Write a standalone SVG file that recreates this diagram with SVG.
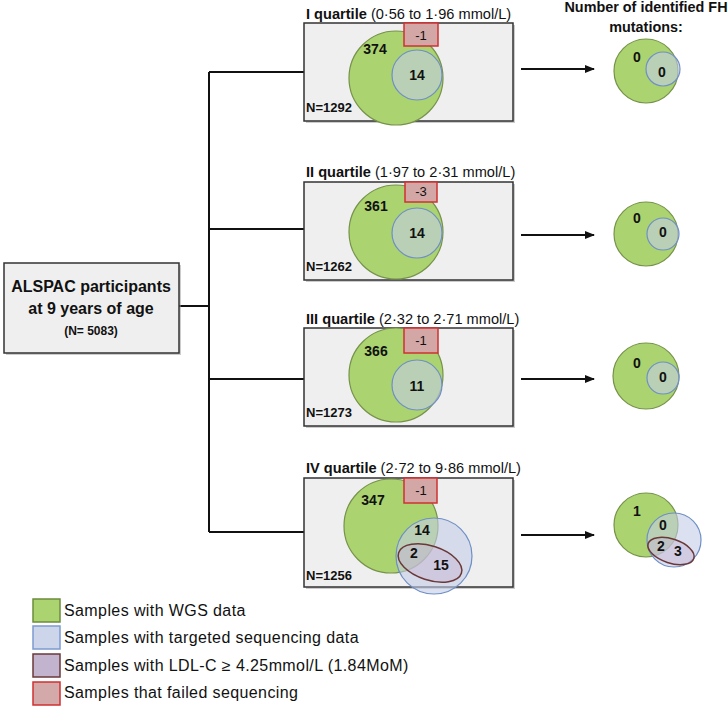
<svg xmlns="http://www.w3.org/2000/svg" width="728" height="708" viewBox="0 0 728 708">
<style>
text{font-family:"Liberation Sans","DejaVu Sans",sans-serif;fill:#111}
.b{font-weight:bold}
.box{fill:#efefef;stroke:#333;stroke-width:1.5}
.sh{fill:#9a9a9a;opacity:0.5}
.g{fill:#abd470;stroke:#76924a;stroke-width:1.2}
.bl{fill:#c3cde6;fill-opacity:0.6;stroke:#6f8fc6;stroke-width:1.2}
.rd{fill:#d4a7a7;stroke:#d03030;stroke-width:1.5}
.el{fill:#c8b4d2;fill-opacity:0.45;stroke:#6b3838;stroke-width:1.5}
.ln{fill:none;stroke:#111;stroke-width:2}
.t{font-size:14.6px}
.n{font-size:14px;font-weight:bold;text-anchor:middle}
.lg{font-size:16px;letter-spacing:0.4px}
</style>
<defs>
<marker id="ah" viewBox="0 0 10 10" refX="9" refY="5" markerWidth="5" markerHeight="5" orient="auto">
<path d="M0,1 L10,5 L0,9 z" fill="#111"/>
</marker>
</defs>
<g id="connectors">
<path class="ln" d="M179,306 H209 M209,72 V532 M209,72 H304 M209,229 H304 M209,379 H304 M209,532 H304"/>
<path class="ln" d="M521,69 H594" marker-end="url(#ah)"/>
<path class="ln" d="M521,235 H594" marker-end="url(#ah)"/>
<path class="ln" d="M521,379 H594" marker-end="url(#ah)"/>
<path class="ln" d="M521,535 H594" marker-end="url(#ah)"/>
</g>
<g id="alspac">
<rect class="sh" x="6" y="265" width="175" height="90"/>
<rect class="box" x="4" y="263" width="175" height="90"/>
<text class="b" x="91" y="292" font-size="16" text-anchor="middle">ALSPAC participants</text>
<text class="b" x="91" y="314" font-size="16" text-anchor="middle">at 9 years of age</text>
<text class="b" x="91" y="335" font-size="12" text-anchor="middle">(N= 5083)</text>
</g>
<g id="q1">
<text class="t" x="306" y="19"><tspan class="b">I quartile</tspan> (0·56 to 1·96 mmol/L)</text>
<rect class="sh" x="306" y="25" width="209" height="98"/>
<rect class="box" x="304" y="23" width="209" height="98"/>
<circle class="g" cx="396" cy="78" r="47"/>
<circle class="bl" cx="417" cy="75" r="25"/>
<rect class="rd" x="404" y="23" width="34" height="23"/>
<text x="421" y="40" font-size="13" text-anchor="middle">-1</text>
<text class="n" x="375" y="54">374</text>
<text class="n" x="417" y="80">14</text>
<text class="b" x="306" y="112" font-size="13">N=1292</text>
</g>
<g id="q2">
<text class="t" x="306" y="177"><tspan class="b">II quartile</tspan> (1·97 to 2·31 mmol/L)</text>
<rect class="sh" x="306" y="184" width="209" height="98"/>
<rect class="box" x="304" y="182" width="209" height="98"/>
<circle class="g" cx="396" cy="232" r="47"/>
<circle class="bl" cx="417" cy="233" r="25"/>
<rect class="rd" x="405" y="182" width="32" height="20"/>
<text x="421" y="196" font-size="13" text-anchor="middle">-3</text>
<text class="n" x="376" y="211">361</text>
<text class="n" x="417" y="238">14</text>
<text class="b" x="306" y="271" font-size="13">N=1262</text>
</g>
<g id="q3">
<text class="t" x="306" y="324"><tspan class="b">III quartile</tspan> (2·32 to 2·71 mmol/L)</text>
<rect class="sh" x="306" y="330" width="209" height="98"/>
<rect class="box" x="304" y="328" width="209" height="98"/>
<circle class="g" cx="396" cy="375" r="47"/>
<circle class="bl" cx="417" cy="385" r="25"/>
<rect class="rd" x="404" y="328" width="34" height="25"/>
<text x="421" y="345" font-size="13" text-anchor="middle">-1</text>
<text class="n" x="376" y="356">366</text>
<text class="n" x="417" y="391">11</text>
<text class="b" x="306" y="417" font-size="13">N=1273</text>
</g>
<g id="q4">
<text class="t" x="306" y="473"><tspan class="b">IV quartile</tspan> (2·72 to 9·86 mmol/L)</text>
<rect class="sh" x="306" y="480" width="209" height="109"/>
<rect class="box" x="304" y="478" width="209" height="109"/>
<circle class="g" cx="391" cy="526" r="47"/>
<circle class="bl" cx="434" cy="556" r="38"/>
<ellipse class="el" cx="430" cy="563" rx="33" ry="17" transform="rotate(18 430 563)"/>
<rect class="rd" x="404" y="478" width="33" height="25"/>
<text x="421" y="495" font-size="13" text-anchor="middle">-1</text>
<text class="n" x="373" y="505">347</text>
<text class="n" x="422" y="535">14</text>
<text class="n" x="414" y="558">2</text>
<text class="n" x="441" y="570">15</text>
<text class="b" x="306" y="580" font-size="13">N=1256</text>
</g>
<g id="fh-header">
<text class="b" x="646" y="12" font-size="14.4" text-anchor="middle">Number of identified FH</text>
<text class="b" x="646" y="32" font-size="14.4" text-anchor="middle">mutations:</text>
</g>
<g id="fh1">
<circle class="g" cx="646" cy="71" r="32"/>
<circle class="bl" cx="663" cy="69" r="17"/>
<text class="n" x="637" y="62">0</text>
<text class="n" x="662" y="77">0</text>
</g>
<g id="fh2">
<circle class="g" cx="646" cy="234" r="32"/>
<circle class="bl" cx="663" cy="234" r="16"/>
<text class="n" x="637" y="223">0</text>
<text class="n" x="663" y="237">0</text>
</g>
<g id="fh3">
<circle class="g" cx="646" cy="376" r="33"/>
<circle class="bl" cx="663" cy="378" r="16"/>
<text class="n" x="637" y="368">0</text>
<text class="n" x="663" y="382">0</text>
</g>
<g id="fh4">
<circle class="g" cx="646" cy="525" r="32"/>
<circle class="bl" cx="674" cy="540" r="27"/>
<ellipse class="el" cx="671" cy="551" rx="24" ry="12" transform="rotate(18 671 551)"/>
<text class="n" x="637" y="516">1</text>
<text class="n" x="663" y="530">0</text>
<text class="n" x="661" y="551">2</text>
<text class="n" x="678" y="556">3</text>
</g>
<g id="legend">
<rect x="33" y="599" width="27" height="23" fill="#abd470" stroke="#6e8c3c" stroke-width="1.5"/>
<rect x="33" y="626" width="27" height="23" fill="#ccd5ea" stroke="#7d9bd0" stroke-width="1.5"/>
<rect x="33" y="654" width="27" height="23" fill="#c2b3cf" stroke="#6b3a3a" stroke-width="1.5"/>
<rect x="33" y="682" width="27" height="23" fill="#d4a9a9" stroke="#d03030" stroke-width="1.5"/>
<text class="lg" x="64" y="616">Samples with WGS data</text>
<text class="lg" x="64" y="643">Samples with targeted sequencing data</text>
<text class="lg" x="64" y="671">Samples with LDL-C ≥ 4.25mmol/L (1.84MoM)</text>
<text class="lg" x="64" y="698">Samples that failed sequencing</text>
</g>
</svg>
